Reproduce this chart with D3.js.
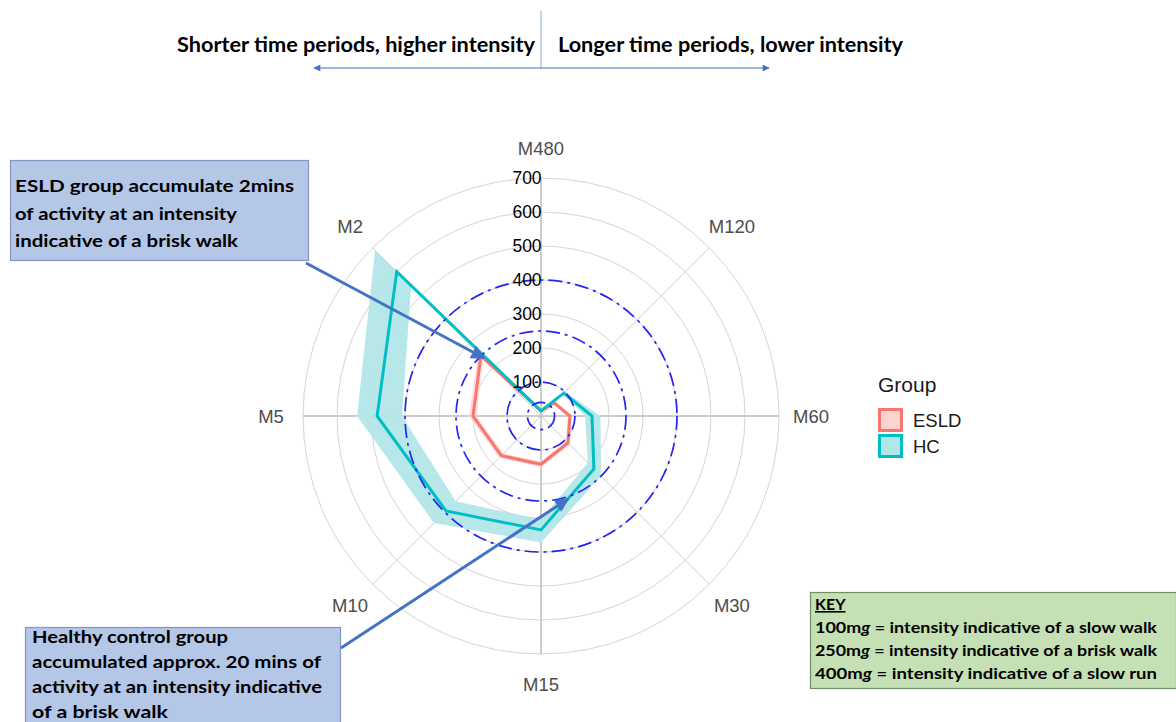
<!DOCTYPE html>
<html><head><meta charset="utf-8">
<script src="https://cdn.jsdelivr.net/npm/d3@7"></script>
<style>body{margin:0;background:#fff}svg{display:block}</style>
</head><body>
<svg id="c" width="1176" height="722"></svg>
<script>
const categories = ["M480","M120","M60","M30","M15","M10","M5","M2"];
const esld      = [15, 55, 85, 112, 142, 165, 200, 250];
const esldLower = [10, 50, 78, 104, 133, 156, 190, 240];
const esldUpper = [20, 60, 92, 120, 151, 174, 212, 260];
const hc        = [15, 95, 150, 220, 335, 395, 482, 600];
const hcLower   = [10, 90, 130, 195, 305, 355, 409, 540];
const hcUpper   = [20, 100, 175, 250, 372, 445, 541, 690];
const gridTicks = [100, 200, 300, 400, 500, 600, 700];
const refLevels = [40, 100, 250, 400];
const groups = ["ESLD", "HC"];
const groupColors = ["#F8766D", "#00BFC4"];
const groupFills = ["#fbd3cf", "#b3e6e8"];
const keyLines = [["100m","g"," = intensity indicative of a slow walk"],["250m","g"," = intensity indicative of a brisk walk"],["400m","g"," = intensity indicative of a slow run"]];

const svg = d3.select("#c");
const cx = 541, cy = 416;
const r = d3.scaleLinear().domain([0, 700]).range([0, 238]);
const ang = d3.scalePoint().domain(categories).range([0, 2*Math.PI*7/8]);
const g = svg.append("g").attr("transform", `translate(${cx},${cy})`);

// defs
const defs = svg.append("defs");
function marker(id, color, w, h){
  defs.append("marker").attr("id", id).attr("viewBox","0 0 10 10").attr("refX",9).attr("refY",5)
    .attr("markerWidth", w).attr("markerHeight", h).attr("orient","auto-start-reverse")
    .attr("markerUnits","userSpaceOnUse")
    .append("path").attr("d","M0,0 L10,5 L0,10 z").attr("fill", color);
}
marker("ah", "#4472c4", 16, 14);
marker("ahs", "#4472c4", 8, 7);

// grid circles
g.selectAll(".gc").data(gridTicks).join("circle")
  .attr("r", d => r(d)).attr("fill","none").attr("stroke","#d4d4d4").attr("stroke-width",1);
// spokes
g.selectAll(".sp").data(categories).join("line")
  .attr("x1",0).attr("y1",0)
  .attr("x2", d => r(700)*Math.sin(ang(d))).attr("y2", d => -r(700)*Math.cos(ang(d)))
  .attr("stroke", (d,i) => i%2===0 ? "#bdbdbd" : "#cfcfcf").attr("stroke-width", (d,i)=> i%2===0?1.5:1);

// ribbons
const area = d3.areaRadial().angle((d,i) => ang(categories[i]))
  .innerRadius(d => r(d[0])).outerRadius(d => r(d[1]));
const ribbons = [d3.zip(esldLower, esldUpper), d3.zip(hcLower, hcUpper)];
ribbons.forEach((rb, k) => {
  g.append("path").attr("d", area(rb)).attr("fill", groupFills[k]).attr("opacity", k===1?0.95:0.8);
});

// lines
const line = d3.lineRadial().angle((d,i) => ang(categories[i])).radius(d => r(d)).curve(d3.curveLinearClosed);
[esld, hc].forEach((s, k) => {
  g.append("path").attr("d", line(s)).attr("fill","none").attr("stroke", groupColors[k])
    .attr("stroke-width", 3).attr("stroke-linejoin","miter");
});

// reference dashed circles
g.selectAll(".rc").data(refLevels).join("circle")
  .attr("r", d => r(d)).attr("fill","none").attr("stroke","#2424f2").attr("stroke-width",1.7)
  .attr("stroke-dasharray","14,5,3,5");

// radial tick labels
g.selectAll(".tl").data(gridTicks).join("text")
  .attr("x", -14).attr("y", d => -r(d)).attr("dy","0.36em")
  .attr("text-anchor","middle").attr("font-family","Liberation Sans, Arial, sans-serif")
  .attr("font-size", 17.5).attr("fill","#000").text(d => d);

// category labels
g.selectAll(".cl").data(categories).join("text")
  .attr("x", d => 270*Math.sin(ang(d))).attr("y", d => -268*Math.cos(ang(d))).attr("dy","0.36em")
  .attr("text-anchor","middle").attr("font-family","Liberation Sans, Arial, sans-serif")
  .attr("font-size", 18.5).attr("fill","#4d4d4d").text(d => d);

// legend
const lg = svg.append("g").attr("transform","translate(878,0)");
lg.append("text").attr("x",0).attr("y",392).attr("font-family","Liberation Sans, Arial, sans-serif")
  .attr("font-size",21).attr("fill","#1a1a1a").text("Group");
groups.forEach((gr, k) => {
  lg.append("rect").attr("x",1.5).attr("y",409.5 + k*26).attr("width",22).attr("height",21)
    .attr("fill", groupFills[k]).attr("stroke", groupColors[k]).attr("stroke-width",3);
  lg.append("text").attr("x",35).attr("y",420 + k*26).attr("dy","0.36em")
    .attr("font-family","Liberation Sans, Arial, sans-serif").attr("font-size",18.5).attr("fill","#1a1a1a").text(gr);
});

// header
svg.append("line").attr("x1",541).attr("y1",11).attr("x2",541).attr("y2",68).attr("stroke","#8eaadb").attr("stroke-width",1);
svg.append("line").attr("x1",541).attr("y1",68).attr("x2",314).attr("y2",68).attr("stroke","#4472c4").attr("stroke-width",1).attr("marker-end","url(#ahs)");
svg.append("line").attr("x1",541).attr("y1",68).attr("x2",769).attr("y2",68).attr("stroke","#4472c4").attr("stroke-width",1).attr("marker-end","url(#ahs)");
const hfont = "Lato, 'Open Sans', sans-serif";
svg.append("text").attr("x",177).attr("y",52).attr("font-family",hfont).attr("font-size",20).attr("font-weight",700)
  .attr("textLength",358).attr("lengthAdjust","spacingAndGlyphs").attr("fill","#000").text("Shorter time periods, higher intensity");
svg.append("text").attr("x",558).attr("y",52).attr("font-family",hfont).attr("font-size",20).attr("font-weight",700)
  .attr("textLength",345).attr("lengthAdjust","spacingAndGlyphs").attr("fill","#000").text("Longer time periods, lower intensity");

// annotation boxes
function box(x, y, w, h, fill, stroke){
  svg.append("rect").attr("x",x).attr("y",y).attr("width",w).attr("height",h).attr("fill",fill).attr("stroke",stroke).attr("stroke-width",1.2);
}
box(10.5, 160.5, 298, 100, "#b4c7e7", "#7f97c4");
const ann1 = ["ESLD group accumulate 2mins", "of activity at an intensity", "indicative of a brisk walk"];
const ann1W = [279, 222, 223];
ann1.forEach((t,i) => svg.append("text").attr("x",15).attr("y",192 + i*27.5).attr("font-family",hfont).attr("font-size",17).attr("font-weight",700)
  .attr("textLength", ann1W[i]).attr("lengthAdjust","spacingAndGlyphs").text(t));
box(25.5, 627.5, 315, 110, "#b4c7e7", "#7f97c4");
const ann2 = ["Healthy control group", "accumulated approx. 20 mins of", "activity at an intensity indicative", "of a brisk walk"];
const ann2W = [196, 289, 290, 136];
ann2.forEach((t,i) => svg.append("text").attr("x",32).attr("y",643 + i*25).attr("font-family",hfont).attr("font-size",17).attr("font-weight",700)
  .attr("textLength", ann2W[i]).attr("lengthAdjust","spacingAndGlyphs").text(t));

// arrows
svg.append("line").attr("x1",306).attr("y1",263).attr("x2",484).attr("y2",358).attr("stroke","#4472c4").attr("stroke-width",3).attr("marker-end","url(#ah)");
svg.append("line").attr("x1",341).attr("y1",648).attr("x2",568).attr("y2",499).attr("stroke","#4472c4").attr("stroke-width",3).attr("marker-end","url(#ah)");

// key box
box(810.5, 592.5, 366, 96, "#c5e0b4", "#6f8f5e");
svg.append("text").attr("x",815).attr("y",610).attr("font-family",hfont).attr("font-size",16).attr("font-weight",700)
  .attr("text-decoration","underline").text("KEY");
keyLines.forEach((parts,i) => {
  const t = svg.append("text").attr("x",815).attr("y",633 + i*23).attr("font-family",hfont).attr("font-size",16).attr("font-weight",700)
    .attr("textLength",342).attr("lengthAdjust","spacingAndGlyphs");
  t.append("tspan").text(parts[0]);
  t.append("tspan").attr("font-style","italic").text(parts[1]);
  t.append("tspan").text(parts[2]);
});
</script>
</body></html>
